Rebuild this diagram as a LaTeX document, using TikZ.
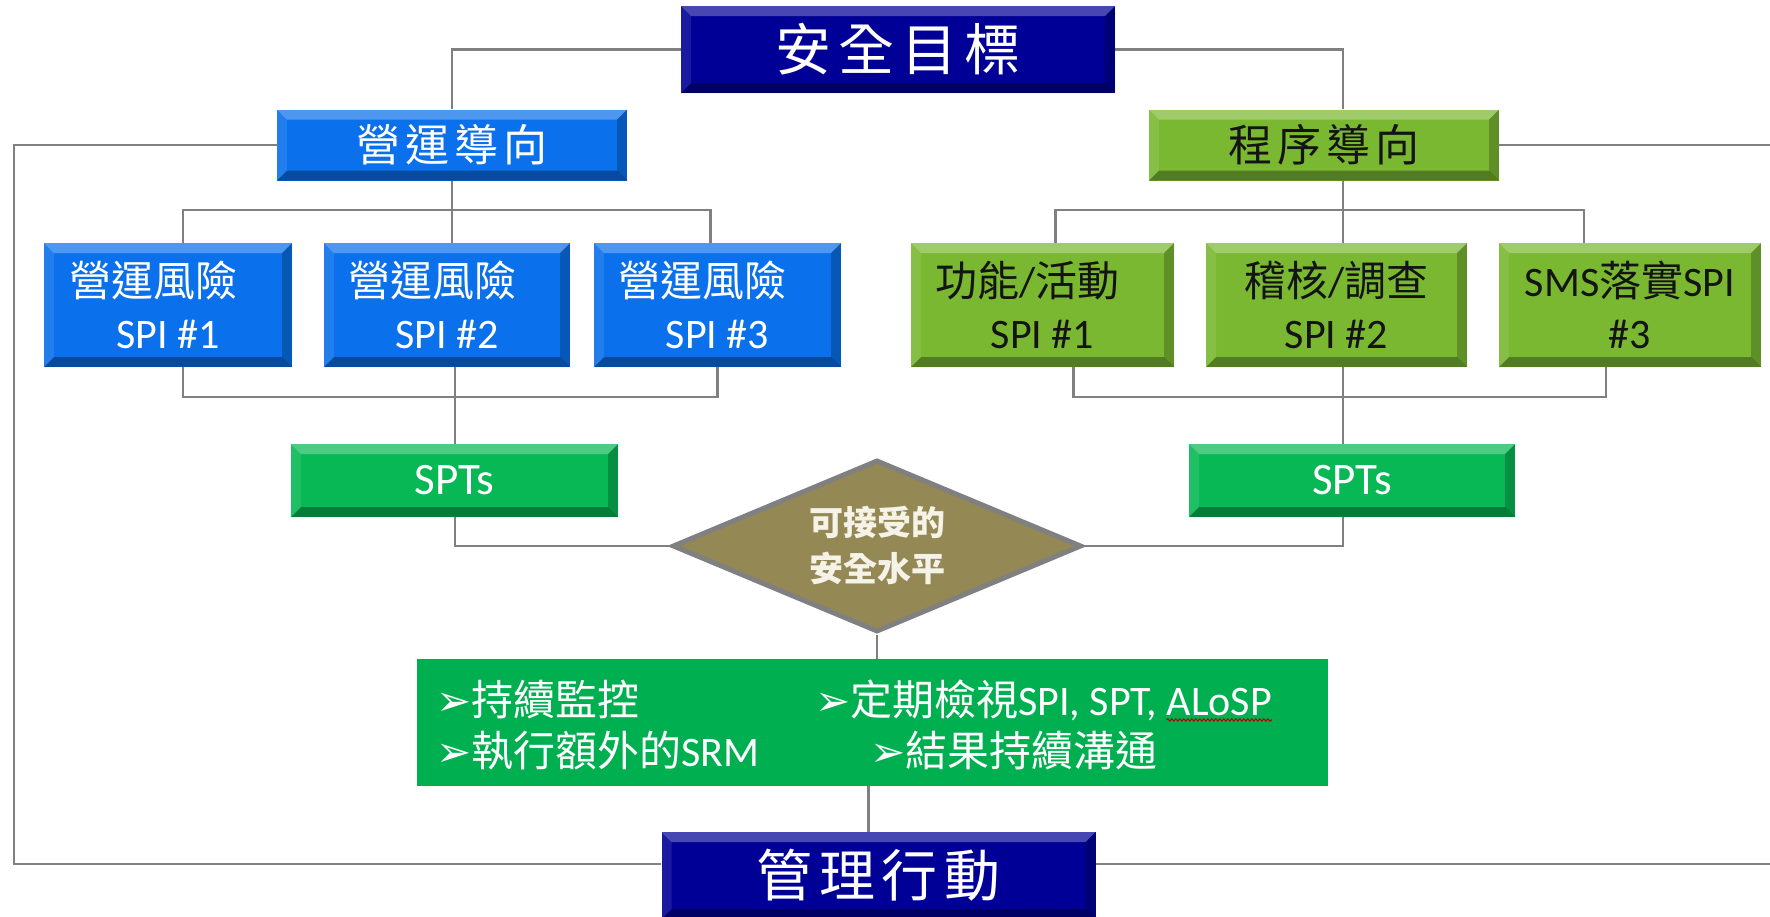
\documentclass[tikz,border=0pt]{standalone}
\usepackage{fontspec}
\setmainfont{Carlito}
\newfontfamily\cjk{Noto Sans CJK TC}
\newfontfamily\cjkls{Noto Sans CJK TC}[LetterSpace=12]
\newfontfamily\dv{DejaVu Sans}
\usetikzlibrary{shapes.geometric,decorations.pathmorphing}
\definecolor{cNavy}{RGB}{0,0,150}
\definecolor{cBlue}{RGB}{10,112,235}
\definecolor{cOlive}{RGB}{122,184,50}
\definecolor{cSpt}{RGB}{8,184,84}
\definecolor{cAct}{RGB}{0,176,80}
\definecolor{cDia}{RGB}{148,136,84}
\definecolor{cLine}{RGB}{128,128,128}
\definecolor{cDark}{RGB}{20,20,20}
\definecolor{cCream}{RGB}{245,242,232}
\tikzset{
  bevel/.style={path picture={
    \path (path picture bounding box.north west) coordinate (bNW)
          (path picture bounding box.north east) coordinate (bNE)
          (path picture bounding box.south west) coordinate (bSW)
          (path picture bounding box.south east) coordinate (bSE);
    \fill[white,opacity=.28] (bNW) -- (bNE) -- ([xshift=-10pt,yshift=-10pt]bNE) -- ([xshift=10pt,yshift=-10pt]bNW) -- cycle;
    \fill[black,opacity=.32] (bSW) -- (bSE) -- ([xshift=-10pt,yshift=10pt]bSE) -- ([xshift=10pt,yshift=10pt]bSW) -- cycle;
    \fill[black,opacity=.22] (bNE) -- (bSE) -- ([xshift=-10pt,yshift=10pt]bSE) -- ([xshift=-10pt,yshift=-10pt]bNE) -- cycle;
    \fill[white,opacity=.10] (bNW) -- (bSW) -- ([xshift=10pt,yshift=10pt]bSW) -- ([xshift=10pt,yshift=-10pt]bNW) -- cycle;
  }},
  box/.style={rectangle, inner sep=0pt, align=center, bevel},
  title/.style={box, fill=cNavy, text=white, minimum width=434pt, minimum height=87pt,
    font=\cjkls\fontsize{56}{60}\selectfont},
  head/.style={box, minimum width=350pt, minimum height=71pt, font=\cjkls\fontsize{44}{48}\selectfont},
  spi/.style={box, minimum height=124pt, font=\fontsize{42}{52}\selectfont},
  spts/.style={box, fill=cSpt, text=white, minimum width=327pt, minimum height=73pt,
    font=\fontsize{45}{50}\selectfont},
  acttext/.style={anchor=base west, inner sep=0pt, text=white, font=\fontsize{42}{46}\selectfont},
  conn/.style={draw=cLine, line width=2.8pt},
}
\begin{document}
\begin{tikzpicture}[x=1pt,y=-1pt]
\fill[white] (0,0) rectangle (1770,916);
\useasboundingbox (0,0) rectangle (1770,916);

\node[title] (goal) at (898,49.5) {安全目標};
\node[head, fill=cBlue, text=white] (ops) at (452,145) {營運導向};
\node[head, fill=cOlive, text=cDark] (proc) at (1324,145) {程序導向};

\node[spi, fill=cBlue, text=white, minimum width=248pt] (b1) at (168,305) {{\cjk 營運風險}\hspace*{30pt}\\SPI \#1};
\node[spi, fill=cBlue, text=white, minimum width=246pt] (b2) at (447,305) {{\cjk 營運風險}\hspace*{30pt}\\SPI \#2};
\node[spi, fill=cBlue, text=white, minimum width=247pt] (b3) at (717.5,305) {{\cjk 營運風險}\hspace*{30pt}\\SPI \#3};

\node[spi, fill=cOlive, text=cDark, minimum width=263pt] (g1) at (1042.5,305) {{\cjk 功能}/{\cjk 活動}\hspace*{30pt}\\SPI \#1};
\node[spi, fill=cOlive, text=cDark, minimum width=261pt] (g2) at (1336.5,305) {{\cjk 稽核}/{\cjk 調查}\\SPI \#2};
\node[spi, fill=cOlive, text=cDark, minimum width=262pt] (g3) at (1630,305) {SMS{\cjk 落實}SPI\\\#3};

\node[spts] (spt1) at (454.5,480.5) {SPTs};
\node[spts, minimum width=326pt] (spt2) at (1352,480.5) {SPTs};

\node[diamond, inner sep=0pt, minimum width=409pt, minimum height=172pt, fill=cDia, draw=cLine, line width=5pt] (dia) at (877,546) {};
\node[align=center, inner sep=0pt, text=cCream, font=\cjk\bfseries\fontsize{34}{46}\selectfont] (dtext) at (dia.center) {可接受的\\安全水平};

\node[rectangle, fill=cAct, minimum width=911pt, minimum height=127pt, inner sep=0pt] (act) at (872.5,722.5) {};
\node[acttext] (a1) at (436,715) {{\dv ➢}{\cjk 持續監控}};
\node[acttext] (a2) at (815,715) {{\dv ➢}{\cjk 定期檢視}SPI, SPT,};
\node[acttext] (alosp) at ([xshift=9pt]a2.base east) {ALoSP};
\node[acttext] (a3) at (436,766) {{\dv ➢}{\cjk 執行額外的}SRM};
\node[acttext] (a4) at (870,766) {{\dv ➢}{\cjk 結果持續溝通}};
\draw[red!75!black, line width=1.1pt, decorate, decoration={snake, amplitude=1.1pt, segment length=4pt}]
  ([yshift=-5pt]alosp.base west) -- ([yshift=-5pt]alosp.base east);

\node[title] (mgmt) at (878.5,875.5) {管理行動};

% connectors
\draw[conn] (goal.west) -| (ops.north);
\draw[conn] (goal.east) -| ([xshift=19pt]proc.north);

\coordinate (otop) at (452,210);
\coordinate (obot) at (455,397);
\draw[conn] (ops.south) -- (ops.south |- b2.north);
\draw[conn] ([xshift=15pt]b1.north) |- (otop) -| ([xshift=-7pt]b3.north);
\draw[conn] ([xshift=15pt]b1.south) |- (obot) -| (b3.south);
\draw[conn] (b2.south -| obot) -- (spt1.north -| obot);
\draw[conn] (spt1.south -| obot) |- (dia.west);

\coordinate (ptop) at (1343,210);
\coordinate (pbot) at (1343,397);
\draw[conn] ([xshift=19pt]proc.south) -- (g2.north -| ptop);
\draw[conn] ([xshift=13pt]g1.north) |- (ptop) -| ([xshift=-46pt]g3.north);
\draw[conn] ([xshift=31pt]g1.south) |- (pbot) -| ([xshift=-24pt]g3.south);
\draw[conn] (g2.south -| pbot) -- (spt2.north -| pbot);
\draw[conn] (spt2.south -| pbot) |- (dia.east);

\draw[conn] (dia.south) -- (dia.south |- act.north);
\draw[conn] ([xshift=-4pt]act.south) -- ([xshift=-4pt]act.south |- mgmt.north);

\coordinate (lbot) at (14,864);
\coordinate (rtop) at (1770,148);
\coordinate (rbot) at (1770,864);
\draw[conn] (ops.west) -| (lbot) -- (lbot -| mgmt.west);
\draw[conn] (proc.east) -- (proc.east -| rtop);
\draw[conn] (rbot -| mgmt.east) -- (rbot);
\end{tikzpicture}
\end{document}
